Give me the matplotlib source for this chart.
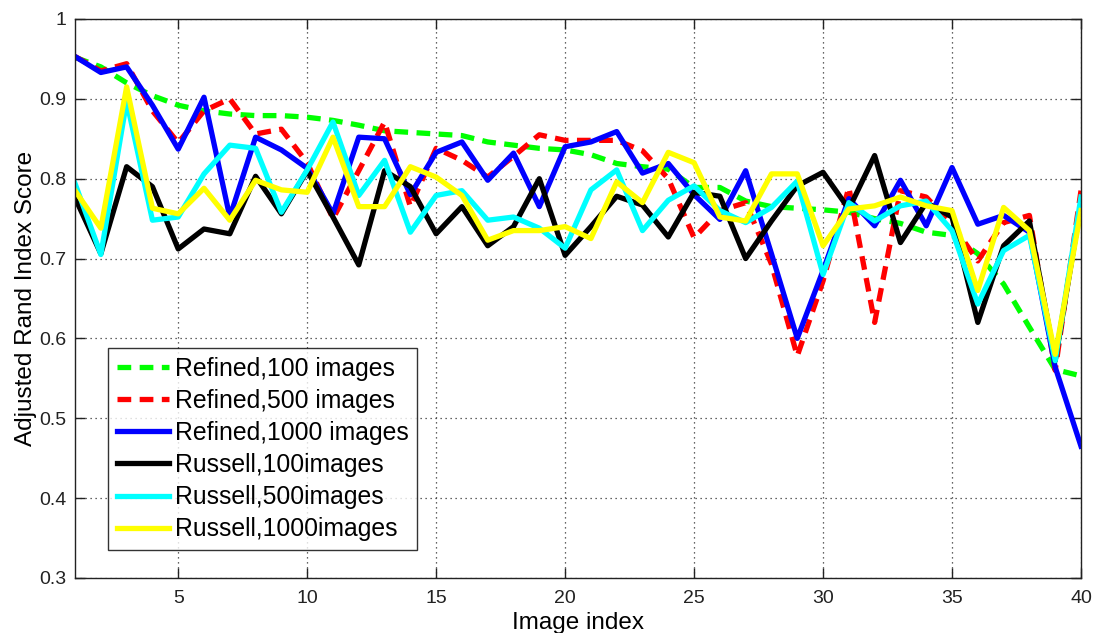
import matplotlib.pyplot as plt
import numpy as np

plt.rcParams['font.family'] = ['Liberation Sans', 'DejaVu Sans']

# Номер изображения
idx = np.arange(1, 41)

refined_100 = [0.952, 0.940, 0.920, 0.904, 0.892, 0.885, 0.881, 0.879, 0.879, 0.877,
               0.873, 0.867, 0.860, 0.858, 0.856, 0.854, 0.846, 0.842, 0.838, 0.836,
               0.830, 0.819, 0.815, 0.812, 0.789, 0.789, 0.772, 0.765, 0.763, 0.761,
               0.758, 0.750, 0.744, 0.733, 0.729, 0.706, 0.668, 0.614, 0.561, 0.553]
refined_500 = [0.953, 0.935, 0.944, 0.885, 0.845, 0.885, 0.900, 0.856, 0.862, 0.820,
               0.750, 0.810, 0.871, 0.765, 0.838, 0.823, 0.802, 0.828, 0.855, 0.848,
               0.848, 0.848, 0.835, 0.800, 0.726, 0.760, 0.770, 0.693, 0.578, 0.672,
               0.789, 0.620, 0.785, 0.777, 0.743, 0.697, 0.745, 0.754, 0.560, 0.785]
refined_1000 = [0.953, 0.933, 0.940, 0.892, 0.837, 0.902, 0.752, 0.852, 0.836, 0.813,
                0.756, 0.852, 0.850, 0.780, 0.833, 0.846, 0.798, 0.832, 0.765, 0.840,
                0.846, 0.859, 0.807, 0.819, 0.780, 0.749, 0.810, 0.706, 0.600, 0.685,
                0.775, 0.741, 0.798, 0.741, 0.814, 0.743, 0.754, 0.733, 0.564, 0.465]
russell_100 = [0.776, 0.706, 0.815, 0.790, 0.712, 0.737, 0.731, 0.803, 0.756, 0.810,
               0.752, 0.692, 0.810, 0.790, 0.731, 0.765, 0.716, 0.740, 0.800, 0.704,
               0.740, 0.778, 0.767, 0.727, 0.783, 0.778, 0.700, 0.747, 0.791, 0.808,
               0.762, 0.829, 0.720, 0.770, 0.752, 0.620, 0.716, 0.747, 0.572, 0.768]
russell_500 = [0.794, 0.705, 0.897, 0.748, 0.752, 0.806, 0.842, 0.838, 0.758, 0.811,
               0.871, 0.779, 0.823, 0.733, 0.779, 0.785, 0.748, 0.752, 0.738, 0.713,
               0.786, 0.811, 0.735, 0.773, 0.791, 0.760, 0.745, 0.764, 0.797, 0.680,
               0.770, 0.747, 0.766, 0.772, 0.735, 0.643, 0.710, 0.729, 0.572, 0.777]
russell_1000 = [0.785, 0.738, 0.915, 0.763, 0.756, 0.788, 0.748, 0.798, 0.786, 0.783,
                0.852, 0.765, 0.765, 0.815, 0.802, 0.779, 0.723, 0.735, 0.735, 0.740,
                0.725, 0.796, 0.770, 0.833, 0.820, 0.752, 0.747, 0.806, 0.806, 0.716,
                0.762, 0.766, 0.777, 0.766, 0.760, 0.660, 0.764, 0.735, 0.580, 0.760]

labels = ['Refined,100 images', 'Refined,500 images', 'Refined,1000 images',
          'Russell,100images', 'Russell,500images', 'Russell,1000images']

fig = plt.figure(figsize=(10.94, 6.33), dpi=100)
ax = fig.add_axes([0.0686, 0.087, 0.9195, 0.883])

lw = 3.8
ax.plot(idx, refined_100, color='#00ff00', lw=lw, ls=(0, (2.6, 1.6)), label=labels[0])
ax.plot(idx, refined_500, color='#ff0000', lw=lw, ls=(0, (2.6, 1.6)), label=labels[1])
ax.plot(idx, refined_1000, color='#0000ff', lw=lw, label=labels[2])
ax.plot(idx, russell_100, color='#000000', lw=lw, label=labels[3])
ax.plot(idx, russell_500, color='#00ffff', lw=lw, label=labels[4])
ax.plot(idx, russell_1000, color='#ffff00', lw=lw, label=labels[5])

ax.set_xlim(1, 40)
ax.set_ylim(0.3, 1.0)
ax.set_xticks([5, 10, 15, 20, 25, 30, 35, 40])
ax.set_yticks(np.arange(0.3, 1.01, 0.1))
ax.set_yticklabels(['0.3', '0.4', '0.5', '0.6', '0.7', '0.8', '0.9', '1'])

# Сетка точками, как в MATLAB
ax.grid(True, color='#333333', linestyle=(0, (1, 3)), linewidth=0.9)
ax.tick_params(direction='in', length=7, top=True, right=True,
               labelsize=14, colors='#222222', width=1)
ax.tick_params(axis='x', pad=9)
ax.tick_params(axis='y', pad=6)
for sp in ax.spines.values():
    sp.set_color('#222222')
    sp.set_linewidth(1.0)

ax.set_xlabel('Image index', fontsize=17.5, labelpad=3)
ax.set_ylabel('Adjusted Rand Index Score', fontsize=17.5, labelpad=2)

leg = ax.legend(loc='lower left', bbox_to_anchor=(0.033, 0.05), borderaxespad=0,
                fontsize=17.8, frameon=True, fancybox=False, edgecolor='black',
                handlelength=2.1, handletextpad=0.25, labelspacing=0.33,
                borderpad=0.35)
leg.get_frame().set_linewidth(1.0)

plt.savefig('out.png', dpi=100)
